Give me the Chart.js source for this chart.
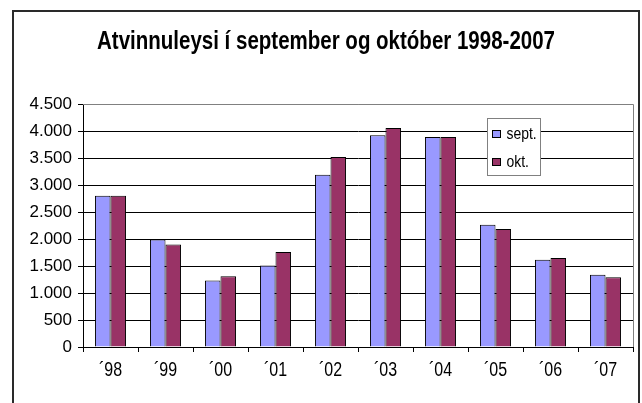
<!DOCTYPE html>
<html>
<head>
<meta charset="utf-8">
<script src="https://cdn.jsdelivr.net/npm/chart.js@4/dist/chart.umd.min.js"></script>
<style>
  html, body { margin: 0; padding: 0; background: #fff; }
  #wrap { position: relative; width: 642px; height: 403px; overflow: hidden; }
  #frame { position: absolute; left: 12px; top: 10px; width: 628px; height: 420px; border: 2px solid #2a2a2a; box-sizing: border-box; pointer-events: none; }
  canvas { position: absolute; left: 0; top: 0; }
</style>
</head>
<body>
<div id="wrap">
  <canvas id="atvChart" width="642" height="403"></canvas>
  <div id="frame"></div>
</div>
<script>
const years = ['\u00B498', '\u00B499', '\u00B400', '\u00B401', '\u00B402', '\u00B403', '\u00B404', '\u00B405', '\u00B406', '\u00B407'];
const sept = [2800, 1990, 1230, 1510, 3190, 3920, 3890, 2265, 1615, 1340];
const okt = [2800, 1900, 1310, 1760, 3520, 4055, 3890, 2185, 1650, 1290];
const yTickLabels = ['0', '500', '1.000', '1.500', '2.000', '2.500', '3.000', '3.500', '4.000', '4.500'];
const titleText = 'Atvinnuleysi \u00ED september og okt\u00F3ber 1998-2007';

const sans = "'Liberation Sans', Arial, sans-serif";

// the original text is a narrow Arial, so squeeze it horizontally
function narrowText(ctx, text, x, y, squeeze, align) {
  ctx.save();
  ctx.translate(x, y);
  ctx.scale(squeeze, 1);
  ctx.textAlign = align;
  ctx.fillText(text, 0, 0);
  ctx.restore();
}

const narrowLabels = {
  id: 'narrowLabels',
  afterDraw(chart) {
    const ctx = chart.ctx;
    const area = chart.chartArea;
    const xs = chart.scales.x;
    ctx.save();
    ctx.fillStyle = '#000';
    ctx.textBaseline = 'middle';

    // title
    ctx.font = 'bold 25px ' + sans;
    narrowText(ctx, titleText, 326, 42, 0.82, 'center');

    // category labels under the axis
    ctx.font = '20px ' + sans;
    chart.data.labels.forEach((lab, i) => {
      narrowText(ctx, lab, xs.getPixelForTick(i), area.bottom + 23, 0.8, 'center');
    });

    // legend box inside the plot, top right
    const x = Math.round(area.right - 146) + 0.5;
    const y = Math.round(area.top + 14) + 0.5;
    const w = 53, h = 57;
    ctx.fillStyle = '#fff';
    ctx.strokeStyle = '#808080';
    ctx.lineWidth = 1;
    ctx.fillRect(x, y, w, h);
    ctx.strokeRect(x, y, w, h);
    ctx.font = '17px ' + sans;
    chart.data.datasets.forEach((ds, i) => {
      const cy = y + 16 + i * 28;
      ctx.fillStyle = ds.backgroundColor;
      ctx.fillRect(x + 5, cy - 4, 8, 7);
      ctx.strokeStyle = '#000';
      ctx.strokeRect(x + 5, cy - 4, 8, 7);
      ctx.fillStyle = '#000';
      narrowText(ctx, ds.label, x + 19, cy, 0.82, 'left');
    });
    ctx.restore();
  }
};

// grey plot border on top and right
const plotBorder = {
  id: 'plotBorder',
  afterDatasetsDraw(chart) {
    const ctx = chart.ctx;
    const a = chart.chartArea;
    ctx.save();
    ctx.strokeStyle = '#808080';
    ctx.lineWidth = 1;
    ctx.beginPath();
    ctx.moveTo(a.left, Math.round(a.top) + 0.5);
    ctx.lineTo(Math.round(a.right) + 0.5, Math.round(a.top) + 0.5);
    ctx.lineTo(Math.round(a.right) + 0.5, a.bottom);
    ctx.stroke();
    ctx.restore();
  }
};

const ctx = document.getElementById('atvChart').getContext('2d');
new Chart(ctx, {
  type: 'bar',
  data: {
    labels: years,
    datasets: [
      { label: 'sept.', data: sept, backgroundColor: '#9999FF', borderColor: '#000', borderWidth: 1 },
      { label: 'okt.', data: okt, backgroundColor: '#993366', borderColor: '#000', borderWidth: 1 }
    ]
  },
  options: {
    responsive: false,
    animation: false,
    devicePixelRatio: 1,
    layout: { padding: { left: 0, right: 9, top: 104, bottom: 0 } },
    datasets: { bar: { categoryPercentage: 0.565, barPercentage: 1.0 } },
    scales: {
      x: {
        afterFit: s => { s.height = 56; },
        grid: { offset: true, drawOnChartArea: false, drawTicks: true, tickLength: 5, color: '#000' },
        border: { color: '#000', width: 1 },
        ticks: { color: 'rgba(0,0,0,0)', padding: 6, font: { family: sans, size: 14 } }
      },
      y: {
        min: 0,
        max: 4500,
        afterFit: s => { s.width = 83; },
        grid: {
          color: c => (c.tick && c.tick.value === 4500 ? '#808080' : '#000'),
          tickColor: '#000',
          tickLength: 5
        },
        border: { color: '#000', width: 1 },
        ticks: {
          stepSize: 500,
          color: '#000',
          padding: 6,
          font: { family: sans, size: 17 },
          callback: (v, i) => yTickLabels[i]
        }
      }
    },
    plugins: {
      legend: { display: false },
      tooltip: { enabled: false },
      title: { display: false }
    }
  },
  plugins: [plotBorder, narrowLabels]
});
</script>
</body>
</html>
